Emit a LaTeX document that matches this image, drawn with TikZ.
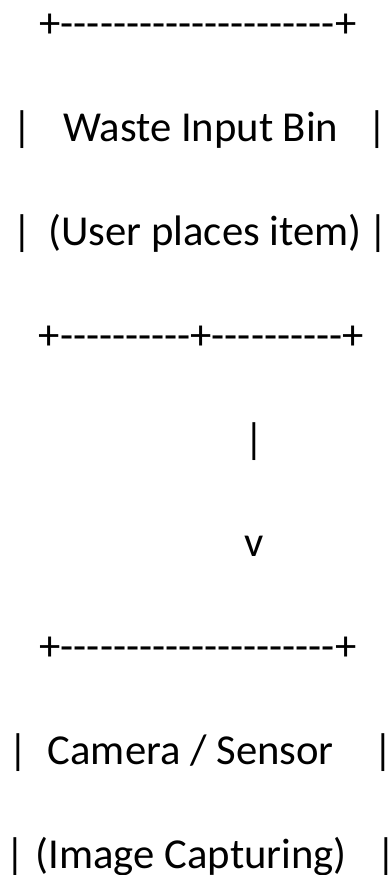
\documentclass[tikz,border=0pt]{standalone}
\usepackage{fontspec}
\setmainfont{Carlito}[Ligatures=TeXOff]
\begin{document}
\begin{tikzpicture}[x=1pt,y=-1pt,
  txt/.style={inner sep=0pt, outer sep=0pt, anchor=base, text=black,
              font=\fontsize{42.67pt}{52pt}\selectfont}]
\path[fill=white,use as bounding box] (0,0) rectangle (390,875);
% line 1: top border of first box
\node[txt] (top1) at (198,37.9) {+---------------------+};
% line 2
\node[txt] (l2a) at (22.7,141.7) {\makebox[0pt]{|}};
\node[txt] (l2b) at (200.8,141.7) {Waste Input Bin};
\node[txt] (l2c) at (377.7,141.7) {\makebox[0pt]{|}};
% line 3
\node[txt] (l3a) at (22.3,245.5) {\makebox[0pt]{|}};
\node[txt] (l3b) at (205,245.5) {(User places item)};
\node[txt] (l3c) at (378,245.5) {\makebox[0pt]{|}};
% line 4: bottom border with tee
\node[txt] (bot1) at (201.3,349.3) {+----------+----------+};
% line 5 and 6: arrow
\node[txt] (arr1) at (254,453.1) {|};
\node[txt] (arr2) at (254,556.9) {v};
% line 7: top border of second box
\node[txt] (top2) at (198,660.7) {+---------------------+};
% line 8
\node[txt] (l8a) at (18.3,764.5) {\makebox[0pt]{|}};
\node[txt] (l8b) at (190.8,764.5) {Camera / Sensor};
\node[txt] (l8c) at (383.3,764.5) {\makebox[0pt]{|}};
% line 9
\node[txt] (l9a) at (15,868.3) {\makebox[0pt]{|}};
\node[txt] (l9b) at (191.3,868.3) {(Image Capturing)};
\node[txt] (l9c) at (386.7,868.3) {\makebox[0pt]{|}};
\end{tikzpicture}
\end{document}
